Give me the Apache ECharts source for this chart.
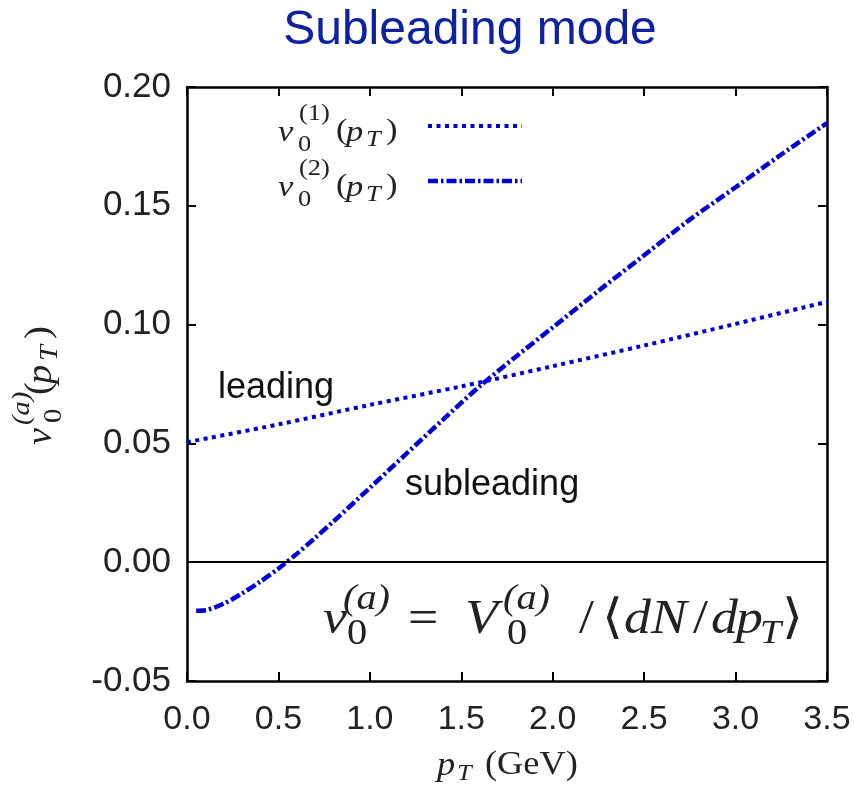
<!DOCTYPE html>
<html>
<head>
<meta charset="utf-8">
<script src="https://cdn.jsdelivr.net/npm/echarts@6/dist/echarts.min.js"></script>
<style>
  html, body { margin: 0; padding: 0; background: #fff; }
  #chart { width: 854px; height: 792px; }
</style>
</head>
<body>
<div id="chart"></div>
<script>
// p_T values (GeV) and v0 for the two modes
var ptLeading = [0.0, 0.5, 1.0, 1.5, 2.0, 2.5, 3.0, 3.5];
var v0Leading = [0.0505, 0.058, 0.0662, 0.074, 0.0825, 0.0912, 0.1003, 0.1096];

var ptSub = [0.05, 0.1, 0.2, 0.3, 0.4, 0.5, 0.6, 0.7, 0.8, 1.0, 1.2, 1.4, 1.6, 1.8, 2.0, 2.25, 2.5, 2.75, 3.0, 3.25, 3.5];
var v0Sub = [-0.0204, -0.0202, -0.0175, -0.0132, -0.0082, -0.0027, 0.0035, 0.0102, 0.0171, 0.0313, 0.0457, 0.06, 0.074, 0.0866, 0.0988, 0.1142, 0.1292, 0.1442, 0.1578, 0.1716, 0.1848];

var xTicks = [0, 0.5, 1.0, 1.5, 2.0, 2.5, 3.0, 3.5];
var yTicks = [-0.05, 0, 0.05, 0.10, 0.15, 0.20];

var BLUE = '#0000d2';
var SERIF = '"Liberation Serif", "DejaVu Serif", serif';
var SANS = '"Liberation Sans", Arial, sans-serif';
var DOT = [4, 4.5];
var DASHDOT = [10, 3, 2.5, 3];

function zip(xs, ys) {
  return xs.map(function (x, i) { return [x, ys[i]]; });
}

// LaTeX-ish text, each part: [text, size, italic, dx, dy]; sx widens glyphs a bit (CM is wide)
function mathText(parts, opt, sx) {
  var kids = parts.map(function (p) {
    return {
      type: 'text', x: p[3], y: p[4], scaleX: sx || 1.15,
      style: {
        text: p[0], fill: '#222',
        font: (p[2] ? 'italic ' : '') + p[1] + 'px ' + SERIF,
        verticalAlign: 'middle'
      }
    };
  });
  return Object.assign({ type: 'group', children: kids }, opt);
}

function legendLabel(n, y) {
  return mathText([
    ['v', 30, true, 0, 0],
    ['0', 23, false, 20, 12],
    ['(' + n + ')', 23, false, 21, -19],
    ['(', 30, false, 58, -2],
    ['p', 30, true, 68, 0],
    ['T', 23, true, 88, 7],
    [')', 30, false, 108, -2]
  ], { x: 278, y: y });
}

function frameAxis(extra) {
  return Object.assign({
    type: 'value',
    axisLine: { onZero: false, lineStyle: { color: '#000', width: 2.5 } },
    axisTick: { inside: true, length: 9, lineStyle: { color: '#000', width: 2 } },
    splitLine: { show: false }
  }, extra);
}

var chart = echarts.init(document.getElementById('chart'));

var option = {
  animation: false,
  title: {
    text: 'Subleading mode',
    left: 465, top: 2, textAlign: 'center',
    textStyle: { color: '#0d21a1', fontFamily: SANS, fontSize: 48, fontWeight: 'normal' }
  },
  grid: { left: 187, right: 27, top: 87, bottom: 111 },
  xAxis: [
    frameAxis({
      min: 0, max: 3.5, interval: 0.5,
      axisLabel: {
        margin: 22, fontFamily: SANS, fontSize: 34, color: '#222',
        formatter: function (v) { return v.toFixed(1); }
      }
    }),
    frameAxis({ position: 'top', min: 0, max: 3.5, interval: 0.5, axisLabel: { show: false } })
  ],
  yAxis: [
    frameAxis({
      min: -0.05, max: 0.2, interval: 0.05,
      axisLabel: {
        margin: 16, fontFamily: SANS, fontSize: 35, color: '#222',
        formatter: function (v) { return (Math.abs(v) < 1e-9 ? 0 : v).toFixed(2); }
      }
    }),
    frameAxis({ position: 'right', min: -0.05, max: 0.2, interval: 0.05, axisLabel: { show: false } })
  ],
  series: [{
    name: 'leading', type: 'line', smooth: 0.3, showSymbol: false,
    data: zip(ptLeading, v0Leading),
    lineStyle: { color: BLUE, width: 4, type: DOT, cap: 'butt' },
    markLine: {
      silent: true, symbol: 'none', label: { show: false },
      lineStyle: { color: '#000', width: 2, type: 'solid' },
      data: [{ yAxis: 0 }]
    },
    z: 3
  }, {
    name: 'subleading', type: 'line', smooth: 0.3, showSymbol: false,
    data: zip(ptSub, v0Sub),
    lineStyle: { color: BLUE, width: 4.5, type: DASHDOT, cap: 'butt' },
    z: 3
  }],
  graphic: [
    // legend
    legendLabel(1, 133),
    legendLabel(2, 188),
    { type: 'line', shape: { x1: 428, y1: 126, x2: 522, y2: 126 },
      style: { stroke: BLUE, lineWidth: 4, lineDash: DOT } },
    { type: 'line', shape: { x1: 428, y1: 181, x2: 522, y2: 181 },
      style: { stroke: BLUE, lineWidth: 4.5, lineDash: DASHDOT } },
    // curve labels
    { type: 'text', x: 218, y: 388, style: { text: 'leading', font: '36px ' + SANS, fill: '#111', verticalAlign: 'middle' } },
    { type: 'text', x: 405, y: 485, style: { text: 'subleading', font: '36px ' + SANS, fill: '#111', verticalAlign: 'middle' } },
    // formula
    mathText([
      ['v', 48, true, 0, 0],
      ['(a)', 36, true, 20, -20],
      ['0', 36, false, 24, 15],
      ['=', 48, false, 85, 0],
      ['V', 48, true, 142, 0],
      ['(a)', 36, true, 180, -20],
      ['0', 36, false, 184, 15],
      ['/', 48, false, 256, 0],
      ['\u27E8', 48, false, 279, 0],
      ['d', 48, true, 301, 0],
      ['N', 48, true, 328, 0],
      ['/', 48, false, 370, 0],
      ['d', 48, true, 388, 0],
      ['p', 48, true, 413, 0],
      ['T', 34, true, 437, 14],
      ['\u27E9', 48, false, 459, 0]
    ], { x: 323, y: 620 }, 1.12),
    // x axis title
    mathText([
      ['p', 33, true, 0, 0],
      ['T', 24, true, 20, 8],
      ['(GeV)', 33, false, 48, -1]
    ], { x: 437, y: 766 }, 1.1),
    // y axis title (rotated)
    mathText([
      ['v', 35, true, 0, 0],
      ['(a)', 26, true, 20, -20],
      ['0', 26, false, 22, 12],
      ['(', 35, false, 50, -2],
      ['p', 35, true, 61, 0],
      ['T', 26, true, 84, 8],
      [')', 35, false, 106, -2]
    ], { x: 42, y: 445, rotation: Math.PI / 2 }, 1.1)
  ]
};

chart.setOption(option);
</script>
</body>
</html>
